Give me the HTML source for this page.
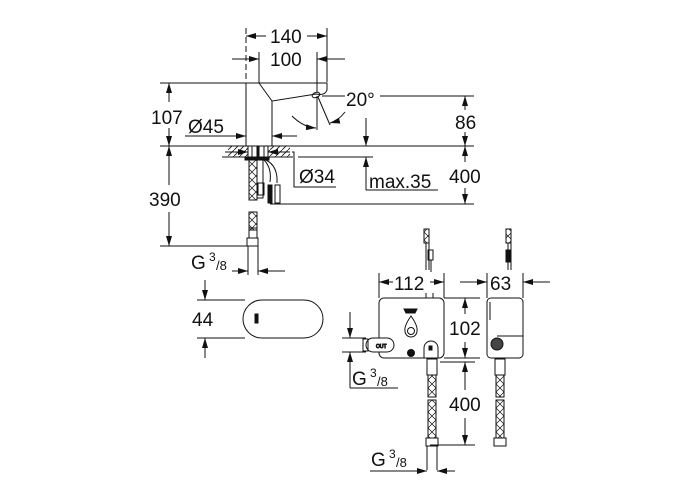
<!DOCTYPE html>
<html><head><meta charset="utf-8"><style>
html,body{margin:0;padding:0;background:#fff;}
svg{display:block}
text{font-family:"Liberation Sans",sans-serif;fill:#111;font-size:19px}
</style></head><body>
<svg width="700" height="500" viewBox="0 0 700 500" xmlns="http://www.w3.org/2000/svg">
<defs>
<marker id="a" viewBox="0 0 10 6" refX="10" refY="3" markerWidth="10" markerHeight="6" orient="auto-start-reverse" markerUnits="userSpaceOnUse"><path d="M0,0 L10,3 L0,6 Z" fill="#111"/></marker>
<pattern id="h" width="6" height="6" patternUnits="userSpaceOnUse"><path d="M0,6 L6,0" stroke="#111" stroke-width="0.8"/></pattern>
<pattern id="x" width="8" height="8" patternUnits="userSpaceOnUse"><path d="M0,0 L8,8 M8,0 L0,8" stroke="#111" stroke-width="0.7"/></pattern>
</defs>
<g stroke="#111" stroke-width="1" fill="none">
<line x1="246" y1="28" x2="246" y2="82" stroke-dasharray="6,3"/>
<line x1="327" y1="28" x2="327" y2="82"/>
<line x1="246" y1="36" x2="266" y2="36" marker-start="url(#a)"/>
<line x1="307" y1="36" x2="327" y2="36" marker-end="url(#a)"/>
<line x1="259" y1="52" x2="259" y2="83"/>
<line x1="317" y1="52" x2="317" y2="92"/>
<line x1="232" y1="59" x2="259" y2="59" marker-end="url(#a)"/>
<line x1="345" y1="59" x2="317" y2="59" marker-end="url(#a)"/>
<path d="M246,146 L246,83 L327,83 L327,90 Q325,96 316,94 L272,101 L272,146"/>
<line x1="259" y1="83" x2="272" y2="101"/>
<ellipse cx="316" cy="95" rx="4" ry="2.5" transform="rotate(-20 316 95)"/>
<line x1="317" y1="96" x2="317" y2="130"/>
<line x1="318" y1="97" x2="330" y2="125"/>
<path d="M292,116 Q303,127 316,128" marker-end="url(#a)"/>
<path d="M345,112 Q338,121 330,123" marker-end="url(#a)"/>
<line x1="322" y1="96" x2="345" y2="96"/>
<line x1="380" y1="96" x2="474" y2="96"/>
<line x1="160" y1="146" x2="474" y2="146"/>
<line x1="160" y1="83" x2="246" y2="83"/>
<line x1="169" y1="83" x2="169" y2="102" marker-start="url(#a)"/>
<line x1="169" y1="128" x2="169" y2="146" marker-end="url(#a)"/>
<line x1="169" y1="146" x2="169" y2="185" marker-start="url(#a)"/>
<line x1="169" y1="212" x2="169" y2="246" marker-end="url(#a)"/>
<line x1="160" y1="246" x2="250" y2="246"/>
<line x1="465" y1="96" x2="465" y2="110" marker-start="url(#a)"/>
<line x1="465" y1="132" x2="465" y2="146" marker-end="url(#a)"/>
<line x1="465" y1="146" x2="465" y2="162" marker-start="url(#a)"/>
<line x1="465" y1="188" x2="465" y2="204" marker-end="url(#a)"/>
<line x1="270" y1="204" x2="474" y2="204"/>
<line x1="185" y1="136" x2="246" y2="136" marker-end="url(#a)"/>
<line x1="297" y1="136" x2="272" y2="136" marker-end="url(#a)"/>
<rect x="228" y="146" width="62" height="11" fill="url(#h)" stroke="none"/>
<line x1="222" y1="157" x2="293" y2="157"/>
<line x1="225" y1="152" x2="248" y2="152" marker-end="url(#a)"/>
<line x1="290" y1="152" x2="268" y2="152" marker-end="url(#a)"/>
<rect x="248" y="146" width="20" height="11" fill="#fff"/>
<line x1="252" y1="146" x2="252" y2="157"/><line x1="258" y1="146" x2="258" y2="157" stroke-width="3"/><line x1="264" y1="146" x2="264" y2="157"/>
<rect x="245" y="157" width="24" height="3" fill="#111"/>
<polyline points="292,152 294,152 294,187 336,187"/>
<line x1="366" y1="118" x2="366" y2="146" marker-end="url(#a)"/>
<line x1="298" y1="157" x2="373" y2="157"/>
<line x1="366" y1="190" x2="366" y2="157" marker-end="url(#a)"/>
<line x1="366" y1="190" x2="438" y2="190"/>
<rect x="249" y="160" width="8" height="40" fill="url(#x)"/>
<rect x="257" y="160" width="6" height="38"/>
<rect x="258" y="183" width="6" height="12"/>
<path d="M264,160 Q272,168 270,182 M266,160 Q278,166 277,183"/>
<rect x="268" y="185" width="4" height="18" fill="#111"/>
<rect x="275" y="185" width="5" height="18"/>
<rect x="249" y="212" width="8" height="18" fill="url(#x)"/>
<rect x="249" y="228" width="8" height="10"/>
<rect x="247" y="238" width="11" height="8"/>
<line x1="248" y1="246" x2="248" y2="275"/><line x1="258" y1="246" x2="258" y2="275"/>
<line x1="232" y1="271" x2="248" y2="271" marker-end="url(#a)"/>
<line x1="285" y1="271" x2="258" y2="271" marker-end="url(#a)"/>
<rect x="243" y="300" width="80" height="38" rx="19"/>
<rect x="255" y="314" width="3" height="9" fill="#111"/>
<line x1="197" y1="300" x2="245" y2="300"/>
<line x1="197" y1="338" x2="245" y2="338"/>
<line x1="205" y1="280" x2="205" y2="300" marker-end="url(#a)"/>
<line x1="205" y1="358" x2="205" y2="338" marker-end="url(#a)"/>
<rect x="379" y="298" width="65" height="60" rx="5"/>
<rect x="487" y="298" width="36" height="60" rx="4"/>
<line x1="490" y1="302" x2="490" y2="320"/>
<line x1="379" y1="273" x2="379" y2="298"/><line x1="444" y1="273" x2="444" y2="298"/>
<line x1="379" y1="282" x2="393" y2="282" marker-start="url(#a)"/>
<line x1="430" y1="282" x2="444" y2="282" marker-end="url(#a)"/>
<line x1="487" y1="273" x2="487" y2="298"/><line x1="523" y1="273" x2="523" y2="298"/>
<line x1="460" y1="282" x2="487" y2="282" marker-end="url(#a)"/>
<line x1="550" y1="282" x2="523" y2="282" marker-end="url(#a)"/>
<path d="M404,309 h13 l-2,4 h-9 z" fill="#111"/>
<path d="M411,316 Q404,326 405,331 A6,6 0 0 0 417,331 Q418,326 411,316 Z"/>
<circle cx="411" cy="331" r="3.5"/>
<rect x="366" y="338" width="28" height="14" rx="7" fill="#fff"/>
<rect x="363" y="339" width="5" height="12"/>
<text x="376" y="348" style="font-size:5px">OUT</text>
<circle cx="411" cy="353" r="3.5" fill="#111"/>
<path d="M424,358 v-10 a7,7 0 0 1 14,0 v10 z" fill="#fff"/>
<rect x="429" y="346" width="3" height="4" fill="#111"/>
<line x1="426" y1="293" x2="426" y2="298"/><line x1="433" y1="293" x2="433" y2="298"/>
<circle cx="497" cy="344" r="6" fill="#444"/>
<path d="M497,336 L523,336 L523,352"/>
<rect x="424" y="229" width="5" height="14" fill="url(#x)"/>
<line x1="426" y1="243" x2="426" y2="270"/><line x1="429" y1="243" x2="429" y2="270"/>
<rect x="428" y="250" width="5" height="10"/>
<line x1="431" y1="260" x2="431" y2="272"/>
<rect x="506" y="229" width="5" height="14" fill="url(#x)"/>
<line x1="508" y1="243" x2="508" y2="270"/><line x1="511" y1="243" x2="511" y2="270"/>
<rect x="506" y="250" width="5" height="12" fill="#111"/>
<line x1="444" y1="298" x2="480" y2="298"/><line x1="444" y1="358" x2="480" y2="358"/>
<line x1="465" y1="298" x2="465" y2="314" marker-start="url(#a)"/>
<line x1="465" y1="342" x2="465" y2="358" marker-end="url(#a)"/>
<rect x="427" y="359" width="10" height="16"/>
<rect x="428" y="375" width="8" height="22" fill="url(#x)"/>
<rect x="428" y="400" width="8" height="38" fill="url(#x)"/>
<rect x="426" y="438" width="12" height="8"/>
<line x1="427" y1="446" x2="427" y2="470"/><line x1="437" y1="446" x2="437" y2="470"/>
<rect x="495" y="359" width="10" height="16"/>
<rect x="496" y="375" width="8" height="22" fill="url(#x)"/>
<rect x="496" y="400" width="8" height="38" fill="url(#x)"/>
<rect x="494" y="438" width="12" height="8"/>
<line x1="440" y1="362" x2="475" y2="362"/>
<line x1="430" y1="445" x2="475" y2="445"/>
<line x1="465" y1="362" x2="465" y2="390" marker-start="url(#a)"/>
<line x1="465" y1="418" x2="465" y2="445" marker-end="url(#a)"/>
<line x1="370" y1="471" x2="427" y2="471" marker-end="url(#a)"/>
<line x1="455" y1="471" x2="437" y2="471" marker-end="url(#a)"/>
<line x1="342" y1="338" x2="366" y2="338"/><line x1="342" y1="352" x2="366" y2="352"/>
<line x1="350" y1="312" x2="350" y2="338" marker-end="url(#a)"/>
<line x1="350" y1="388" x2="350" y2="352" marker-end="url(#a)"/>
<line x1="350" y1="388" x2="398" y2="388"/>
</g>
<text x="270" y="43">140</text>
<text x="270" y="66">100</text>
<text x="346" y="106">20°</text>
<text x="151" y="124">107</text>
<text x="188" y="133">Ø45</text>
<text x="455" y="129">86</text>
<text x="449" y="183">400</text>
<text x="299" y="183">Ø34</text>
<text x="369" y="188">max.35</text>
<text x="149" y="206">390</text>
<text x="191" y="269">G</text><text x="209" y="261" style="font-size:12px">3</text><text x="216" y="270" style="font-size:13px">/8</text>
<text x="192" y="326">44</text>
<text x="394" y="290">112</text>
<text x="490" y="290">63</text>
<text x="449" y="335">102</text>
<text x="449" y="411">400</text>
<text x="352" y="385">G</text><text x="370" y="377" style="font-size:12px">3</text><text x="377" y="386" style="font-size:13px">/8</text>
<text x="371" y="466">G</text><text x="389" y="458" style="font-size:12px">3</text><text x="396" y="467" style="font-size:13px">/8</text>
</svg>
</body></html>
